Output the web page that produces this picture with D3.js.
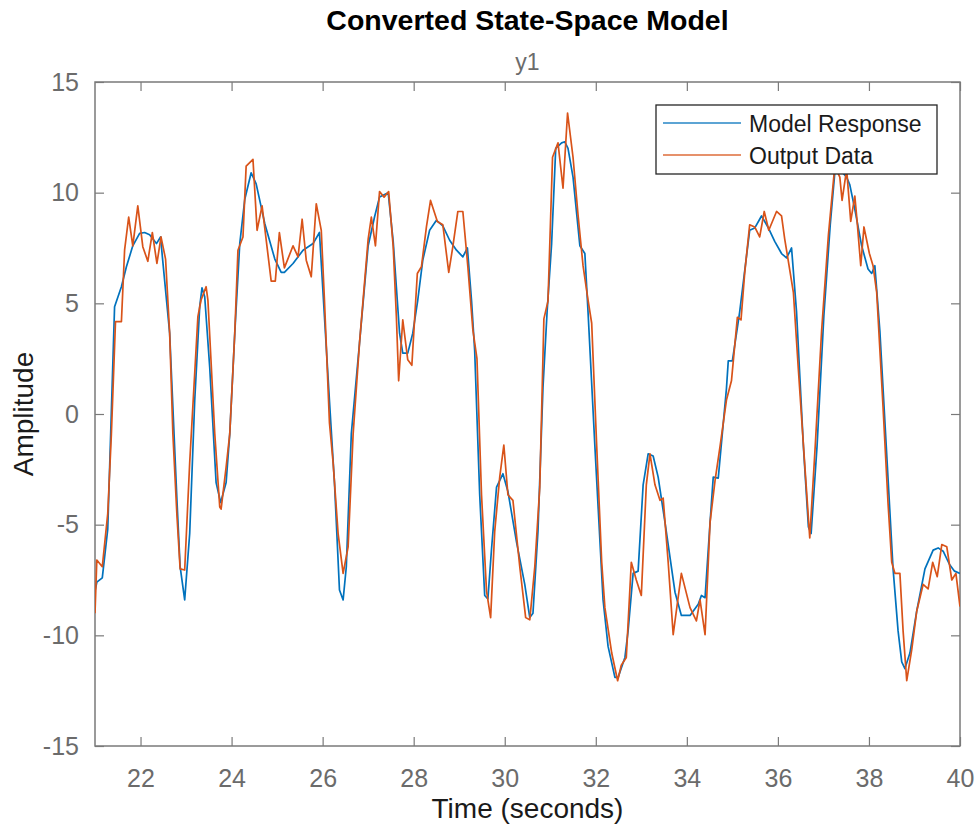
<!DOCTYPE html>
<html>
<head>
<meta charset="utf-8">
<script src="https://cdn.jsdelivr.net/npm/d3@7"></script>
<style>
  html, body { margin: 0; padding: 0; background: #fff; }
  svg { display: block; font-family: "Liberation Sans", Arial, sans-serif; }
</style>
</head>
<body>
<svg id="chart" width="979" height="827"></svg>
<script>
// ---------------- DATA ----------------
const titleText = "Converted State-Space Model";
const subTitleText = "y1";
const xLabelText = "Time (seconds)";
const yLabelText = "Amplitude";
const seriesNames = ["Model Response", "Output Data"];

const xTicks = [22, 24, 26, 28, 30, 32, 34, 36, 38, 40];
const yTicks = [-15, -10, -5, 0, 5, 10, 15];

const modelTime = [
  21.00, 21.04, 21.16, 21.28, 21.43, 21.58, 21.69, 21.83, 21.98, 22.09, 22.20, 22.35, 22.44, 22.48, 22.64, 22.80, 22.87, 22.97,
  23.08, 23.19, 23.30, 23.35, 23.41, 23.52, 23.66, 23.76, 23.88, 23.96, 24.07, 24.18, 24.29, 24.43, 24.54, 24.73, 24.95, 25.09,
  25.16, 25.35, 25.57, 25.79, 25.93, 26.15, 26.26, 26.37, 26.45, 26.52, 26.63, 26.81, 27.00, 27.14, 27.25,
  27.44, 27.55, 27.69, 27.76, 27.87, 27.98, 28.09, 28.20, 28.35, 28.50, 28.64, 28.79, 28.94, 29.08, 29.18, 29.27,
  29.34, 29.45, 29.56, 29.63, 29.71, 29.82, 29.96, 30.07, 30.26, 30.44, 30.55, 30.62, 30.73, 30.84, 30.93, 31.03, 31.12, 31.25, 31.32,
  31.39, 31.50, 31.65, 31.76, 31.83, 31.98, 32.16, 32.27, 32.42, 32.49, 32.64, 32.71, 32.82, 32.93, 33.04, 33.15, 33.26, 33.37, 33.52,
  33.74, 33.88, 34.07, 34.25, 34.32, 34.40, 34.51, 34.58, 34.69, 34.87, 34.91, 35.00, 35.11, 35.16, 35.38, 35.49, 35.60,
  35.64, 35.78, 35.93, 36.08, 36.19, 36.30, 36.41, 36.56, 36.67, 36.73, 36.86, 37.01, 37.15, 37.25, 37.36, 37.51, 37.58,
  37.69, 37.84, 37.98, 38.06, 38.13, 38.24, 38.38, 38.53, 38.64, 38.72, 38.79, 38.90, 39.05, 39.23, 39.41, 39.52, 39.63, 39.77, 39.88, 40.00
];
const modelValue = [
  -8.0, -7.6, -7.4, -5.2, 4.85, 5.75, 6.65, 7.6, 8.16, 8.2, 8.1, 7.7, 8.0, 7.1, 3.65, -3.9, -6.9, -8.4,
  -5.4, 0.6, 4.85, 5.7, 5.3, 2.1, -3.1, -4.0, -3.1, -0.9, 3.65, 7.7, 9.7, 10.9, 10.4, 8.6, 7.0, 6.4,
  6.4, 6.8, 7.4, 7.7, 8.2, 0.6, -3.1, -7.95, -8.4, -6.9, -0.9, 3.2, 7.6, 8.9, 9.8,
  10.0, 7.8, 3.65, 2.75, 2.75, 3.65, 5.15, 6.95, 8.3, 8.75, 8.5, 7.85, 7.4, 7.1, 7.5, 5.15,
  2.85, -3.65, -8.2, -8.35, -6.1, -3.3, -2.7, -3.5, -5.8, -7.7, -9.2, -9.0, -5.3, 1.2, 4.6, 7.7, 12.0, 12.25, 12.3,
  12.0, 10.7, 7.6, 7.25, 4.6, -1.45, -8.4, -10.5, -11.9, -11.9, -11.0, -9.8, -7.2, -7.1, -3.2, -1.8, -1.9, -2.85, -4.9,
  -8.05, -9.1, -9.1, -8.6, -8.2, -8.3, -4.9, -2.85, -2.9, 1.15, 2.4, 2.4, 3.9, 4.6, 8.3, 8.4, 8.8,
  8.95, 8.45, 7.8, 7.25, 7.05, 7.5, 4.6, -1.45, -5.1, -5.4, -1.45, 4.45, 8.55, 10.9, 11.05, 10.7, 10.35,
  9.25, 7.6, 6.55, 6.35, 6.7, 3.75, -1.45, -7.0, -9.8, -11.2, -11.5, -10.8, -8.9, -7.0, -6.15, -6.05, -6.2, -6.8, -7.1, -7.2
];

const outputTime = [
  21.00, 21.04, 21.16, 21.28, 21.36, 21.45, 21.58, 21.65, 21.74, 21.83, 21.94, 22.05, 22.16, 22.26, 22.36, 22.45, 22.55, 22.64, 22.71, 22.80, 22.87, 22.97, 23.08,
  23.26, 23.33, 23.44, 23.48, 23.63, 23.74, 23.77, 23.88, 23.96, 24.07, 24.14, 24.25, 24.32, 24.47, 24.56, 24.67, 24.87, 24.96, 25.05, 25.16,
  25.35, 25.46, 25.55, 25.64, 25.75, 25.86, 25.97, 26.04, 26.15, 26.23, 26.34, 26.45, 26.56, 26.67, 26.81, 27.00, 27.07, 27.16, 27.25,
  27.35, 27.45, 27.55, 27.62, 27.67, 27.76, 27.87, 27.96, 28.08, 28.17, 28.28, 28.37, 28.52, 28.64, 28.77, 28.86, 28.97, 29.08, 29.19, 29.30,
  29.39, 29.49, 29.60, 29.69, 29.78, 29.89, 29.98, 30.07, 30.18, 30.33, 30.46, 30.55, 30.66, 30.77, 30.86, 30.95, 31.05, 31.17, 31.28, 31.38,
  31.50, 31.61, 31.72, 31.83, 31.91, 32.02, 32.13, 32.20, 32.35, 32.48, 32.56, 32.67, 32.78, 32.89, 33.00, 33.11, 33.19, 33.30, 33.41,
  33.48, 33.59, 33.70, 33.88, 34.07, 34.21, 34.29, 34.40, 34.51, 34.62, 34.73, 34.87, 34.98, 35.11, 35.19, 35.27, 35.38, 35.49,
  35.60, 35.70, 35.80, 35.97, 36.08, 36.15, 36.23, 36.34, 36.45, 36.59, 36.70, 36.82, 36.96, 37.11, 37.25, 37.36, 37.41, 37.51, 37.60,
  37.69, 37.74, 37.82, 37.89, 38.01, 38.09, 38.17, 38.31, 38.42, 38.50, 38.57, 38.68, 38.75, 38.83, 38.94, 39.05, 39.19, 39.30, 39.40, 39.50, 39.60, 39.71, 39.82, 39.91, 40.00
];
const outputValue = [
  -9.0, -6.6, -6.9, -4.5, -0.9, 4.17, 4.17, 7.4, 8.9, 7.6, 9.4, 7.56, 6.9, 8.2, 6.8, 8.0, 7.0, 3.65, -0.87, -4.6, -7.0, -7.05, -2.2,
  4.4, 5.15, 5.75, 5.15, -0.87, -4.2, -4.3, -2.4, -0.9, 3.65, 7.4, 8.0, 11.2, 11.5, 8.3, 9.4, 6.0, 6.0, 8.2, 6.6,
  7.6, 7.1, 8.8, 6.95, 6.2, 9.5, 8.3, 5.15, -0.4, -2.2, -5.4, -7.2, -6.0, -0.9, 3.2, 7.9, 8.9, 7.6, 10.05,
  9.8, 10.05, 7.56, 4.4, 1.5, 4.25, 2.45, 2.2, 6.35, 6.65, 8.45, 9.65, 8.7, 8.55, 6.4, 7.56, 9.15, 9.15, 6.65, 3.8,
  2.5, -3.65, -8.0, -9.2, -5.3, -2.85, -1.4, -3.65, -3.9, -6.9, -9.2, -9.3, -6.9, -3.3, 4.3, 5.1, 11.6, 12.25, 10.2, 13.6,
  11.6, 9.0, 6.7, 5.15, 4.1, -1.45, -6.7, -8.75, -10.8, -12.05, -11.35, -11.0, -6.7, -7.5, -8.2, -3.2, -1.8, -3.2, -3.9,
  -3.8, -6.7, -9.97, -7.2, -8.75, -9.35, -8.4, -9.97, -4.9, -3.0, -1.45, 0.63, 1.5, 4.37, 4.25, 6.35, 8.55, 8.45,
  8.0, 9.15, 8.3, 9.15, 8.95, 7.9, 6.9, 5.5, 2.0, -2.3, -5.6, -1.45, 3.75, 8.1, 11.2, 10.7, 9.65, 11.05, 8.7,
  9.85, 8.7, 6.7, 8.45, 7.25, 6.7, 5.5, 0.3, -4.05, -6.7, -7.2, -7.2, -9.8, -12.05, -10.65, -8.9, -7.7, -7.9, -6.7, -7.35, -5.9, -6.0, -7.5, -7.2, -8.7
];

// ---------------- LAYOUT ----------------
const margin = { left: 95, right: 960, top: 82, bottom: 746 };
const blue = "#0072BD", orange = "#D95319";
const axisGray = "#7a7a7a", labelGray = "#6b6b6b";

const svg = d3.select("#chart");
const x = d3.scaleLinear().domain([21, 40]).range([margin.left, margin.right]);
const y = d3.scaleLinear().domain([-15, 15]).range([margin.bottom, margin.top]);

svg.append("defs").append("clipPath").attr("id", "plotclip")
  .append("rect").attr("x", margin.left).attr("y", margin.top)
  .attr("width", margin.right - margin.left).attr("height", margin.bottom - margin.top);

const tickLen = 9;
const plotW = margin.right - margin.left, plotH = margin.bottom - margin.top;
const fmt = d => String(d);

const gxB = svg.append("g").attr("transform", `translate(0,${margin.bottom})`)
  .call(d3.axisBottom(x).tickValues(xTicks).tickSizeInner(-tickLen).tickSizeOuter(0).tickPadding(tickLen + 14).tickFormat(fmt));
const gxT = svg.append("g").attr("transform", `translate(0,${margin.top})`)
  .call(d3.axisTop(x).tickValues(xTicks).tickSizeInner(-tickLen).tickSizeOuter(0).tickFormat(""));
const gyL = svg.append("g").attr("transform", `translate(${margin.left},0)`)
  .call(d3.axisLeft(y).tickValues(yTicks).tickSizeInner(-tickLen).tickSizeOuter(0).tickPadding(tickLen + 7).tickFormat(fmt));
const gyR = svg.append("g").attr("transform", `translate(${margin.right},0)`)
  .call(d3.axisRight(y).tickValues(yTicks).tickSizeInner(-tickLen).tickSizeOuter(0).tickFormat(""));

[gxB, gxT, gyL, gyR].forEach(g => {
  g.select(".domain").remove();
  g.selectAll(".tick line").attr("stroke", axisGray).attr("stroke-width", 1.2);
  g.selectAll(".tick text").attr("fill", labelGray).style("font-size", "25px")
    .style("font-family", '"Liberation Sans", Arial, sans-serif');
});
gxB.selectAll(".tick text").attr("dy", "0.71em");

svg.append("rect").attr("x", margin.left).attr("y", margin.top)
  .attr("width", plotW).attr("height", plotH)
  .attr("fill", "none").attr("stroke", axisGray).attr("stroke-width", 1.5);

// lines
const line = d3.line().x(d => x(d[0])).y(d => y(d[1]));
const modelData = modelTime.map((t, i) => [t, modelValue[i]]);
const outputData = outputTime.map((t, i) => [t, outputValue[i]]);

const plotG = svg.append("g").attr("clip-path", "url(#plotclip)");
plotG.append("path").datum(modelData).attr("d", line)
  .attr("fill", "none").attr("stroke", blue).attr("stroke-width", 1.7).attr("stroke-linejoin", "round");
plotG.append("path").datum(outputData).attr("d", line)
  .attr("fill", "none").attr("stroke", orange).attr("stroke-width", 1.7).attr("stroke-linejoin", "round");

// titles
const cx = (margin.left + margin.right) / 2;
svg.append("text").attr("x", cx).attr("y", 30).attr("text-anchor", "middle")
  .style("font-size", "28.5px").style("font-weight", "bold").attr("fill", "#000").text(titleText);
svg.append("text").attr("x", cx).attr("y", 70).attr("text-anchor", "middle")
  .style("font-size", "23px").attr("fill", labelGray).text(subTitleText);
svg.append("text").attr("x", cx).attr("y", 818).attr("text-anchor", "middle")
  .style("font-size", "28px").attr("fill", "#1a1a1a").text(xLabelText);
svg.append("text").attr("transform", `translate(33,${(margin.top + margin.bottom) / 2}) rotate(-90)`)
  .attr("text-anchor", "middle").style("font-size", "28px").attr("fill", "#1a1a1a").text(yLabelText);

// legend
const leg = svg.append("g");
leg.append("rect").attr("x", 656).attr("y", 105).attr("width", 281).attr("height", 69)
  .attr("fill", "#fff").attr("stroke", "#262626").attr("stroke-width", 1.3);
const legColors = [blue, orange];
seriesNames.forEach((name, i) => {
  const ly = 123 + i * 32;
  leg.append("line").attr("x1", 663).attr("x2", 741).attr("y1", ly).attr("y2", ly)
    .attr("stroke", legColors[i]).attr("stroke-width", 1.7).attr("opacity", 0.85);
  leg.append("text").attr("x", 749).attr("y", ly + 9).style("font-size", "23px")
    .attr("fill", "#1a1a1a").text(name);
});
</script>
</body>
</html>
